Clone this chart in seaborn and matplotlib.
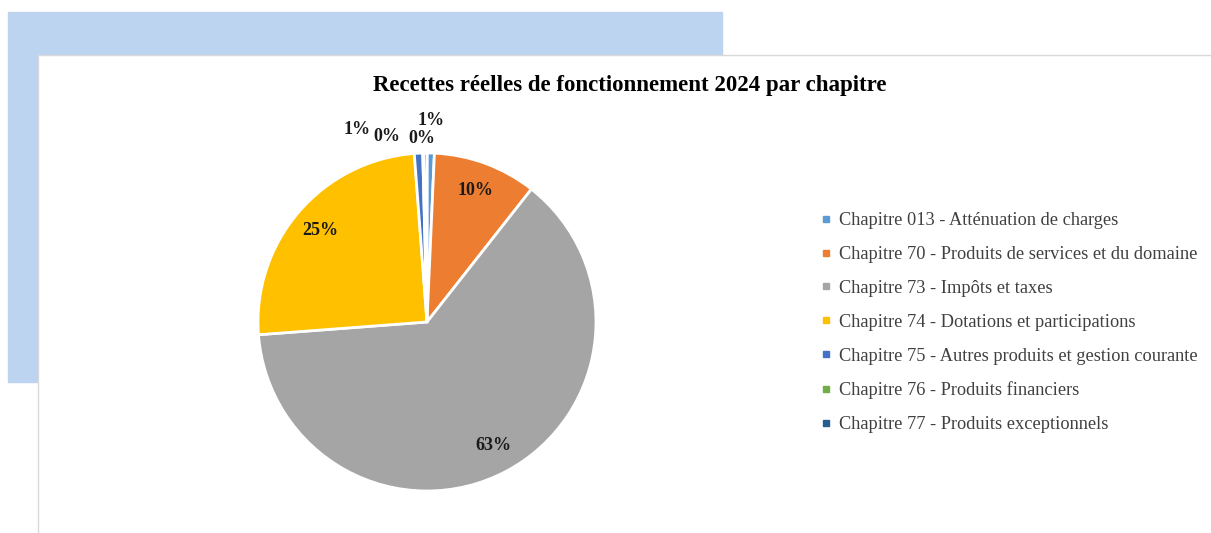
import matplotlib
matplotlib.use("Agg")
import matplotlib.pyplot as plt
import seaborn as sns
from matplotlib.patches import Rectangle
from matplotlib.lines import Line2D

# données (parts en %)
chapitres = [
    "Chapitre 013 - Atténuation de charges",
    "Chapitre 70 - Produits de services et du domaine",
    "Chapitre 73 - Impôts et taxes",
    "Chapitre 74 - Dotations et participations",
    "Chapitre 75 - Autres produits et gestion courante",
    "Chapitre 76 - Produits financiers",
    "Chapitre 77 - Produits exceptionnels",
]
parts = [0.7, 9.9, 63.2, 25.0, 0.8, 0.1, 0.3]
couleurs = ["#5B9BD5", "#ED7D31", "#A5A5A5", "#FFC000", "#4472C4", "#70AD47", "#255E91"]
titre = "Recettes réelles de fonctionnement 2024 par chapitre"

sns.set_theme(style="white")
plt.rcParams["font.family"] = ["Liberation Serif", "DejaVu Serif"]

W, H = 1211, 533
fig = plt.figure(figsize=(W / 100, H / 100), dpi=100)

# cadre décoratif bleu + zone graphique blanche
fig.patches.append(Rectangle((8 / W, 1 - 382 / H), 714 / W, 370 / H,
                             transform=fig.transFigure, color="#BDD4F0", zorder=0))
fig.patches.append(Rectangle((38 / W, -0.01), 1.0, 1 - 55 / H + 0.01,
                             transform=fig.transFigure, facecolor="white",
                             edgecolor="#D9D9D9", linewidth=1, zorder=0.5))

# camembert
cx, cy, r = 427, 322, 169
ax = fig.add_axes([(cx - r) / W, (H - cy - r) / H, 2 * r / W, 2 * r / H])
ax.set_zorder(2)
wedges, texts, autotexts = ax.pie(
    parts, colors=couleurs, startangle=90, counterclock=False,
    autopct=lambda p: f"{p:.0f}%", pctdistance=0.83,
    wedgeprops=dict(edgecolor="white", linewidth=2),
    textprops=dict(fontsize=13, fontweight="bold", color="#1a1a1a"),
)
ax.set_xlim(-1, 1)
ax.set_ylim(-1, 1)
ax.set_aspect("equal")
ax.axis("off")

# étiquettes des petites parts placées au-dessus, comme dans Excel
petites = {0: (0.025, 1.195), 6: (-0.03, 1.085), 5: (-0.237, 1.10), 4: (-0.414, 1.142)}
for i, pos in petites.items():
    autotexts[i].set_position(pos)

fig.text(630 / W, 1 - 85 / H, titre, ha="center", va="center",
         fontsize=16.5, fontweight="bold", color="#000000")

handles = [Line2D([], [], marker="s", linestyle="none", markersize=5,
                  markerfacecolor=c, markeredgecolor=c) for c in couleurs]
leg = fig.legend(handles, chapitres, loc="upper left",
                 bbox_to_anchor=(811 / W, 1 - 203 / H), frameon=False,
                 fontsize=13.2, labelspacing=0.92, handlelength=0.6,
                 handletextpad=0.45, borderpad=0)
for t in leg.get_texts():
    t.set_color("#404040")

fig.savefig("out.png", dpi=100)
